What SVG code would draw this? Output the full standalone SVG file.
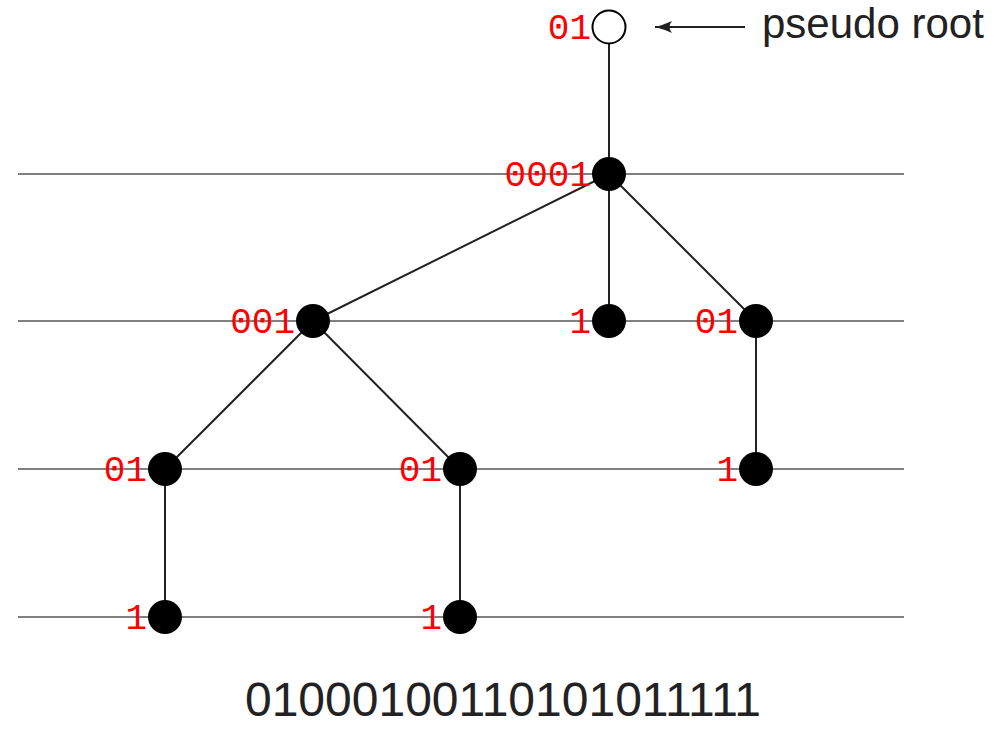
<svg xmlns="http://www.w3.org/2000/svg" width="1001" height="730" viewBox="0 0 1001 730">
<style>
.lvl{stroke:#808080;stroke-width:2;fill:none}
.edge{stroke:#222;stroke-width:2;fill:none}
.node{fill:#000}
.lbl{font-family:"Liberation Mono",monospace;font-size:36px;fill:#ff0000;text-anchor:end}
.txt{font-family:"Liberation Sans",Arial,sans-serif;fill:#222}
</style>
<defs>
<marker id="ah" markerWidth="18" markerHeight="14" refX="17" refY="7" orient="auto" markerUnits="userSpaceOnUse">
<path d="M0,1 Q9,5 17,7 Q9,9 0,13 Q5,7 0,1 Z" fill="#222"/>
</marker>
</defs>
<rect width="1001" height="730" fill="#fff"/>
<g id="levels">
<line class="lvl" x1="18" y1="174" x2="904" y2="174"/>
<line class="lvl" x1="18" y1="321" x2="904" y2="321"/>
<line class="lvl" x1="18" y1="469" x2="904" y2="469"/>
<line class="lvl" x1="18" y1="617" x2="904" y2="617"/>
</g>
<g id="connectors">
<line class="edge" x1="609" y1="44" x2="609" y2="174"/>
<line class="edge" x1="609" y1="174" x2="313" y2="321"/>
<line class="edge" x1="609" y1="174" x2="609" y2="321"/>
<line class="edge" x1="609" y1="174" x2="756" y2="321"/>
<line class="edge" x1="313" y1="321" x2="165" y2="469"/>
<line class="edge" x1="313" y1="321" x2="460" y2="469"/>
<line class="edge" x1="756" y1="321" x2="756" y2="469"/>
<line class="edge" x1="165" y1="469" x2="165" y2="617"/>
<line class="edge" x1="460" y1="469" x2="460" y2="617"/>
<line class="edge" x1="745" y1="27" x2="655" y2="27" marker-end="url(#ah)"/>
</g>
<g id="pseudo-root">
<circle cx="609" cy="27" r="16.5" fill="#fff" stroke="#000" stroke-width="2"/>
<text class="lbl" x="591" y="39">01</text>
</g>
<g id="pseudo-root-label"><text class="txt" x="762" y="38" font-size="42">pseudo root</text></g>
<g id="n0001"><circle class="node" cx="609" cy="174" r="17"/><text class="lbl" x="591" y="186">0001</text></g>
<g id="n001"><circle class="node" cx="313" cy="321" r="17"/><text class="lbl" x="295" y="333">001</text></g>
<g id="n1a"><circle class="node" cx="609" cy="321" r="17"/><text class="lbl" x="591" y="333">1</text></g>
<g id="n01a"><circle class="node" cx="756" cy="321" r="17"/><text class="lbl" x="738" y="333">01</text></g>
<g id="n01b"><circle class="node" cx="165" cy="469" r="17"/><text class="lbl" x="147" y="481">01</text></g>
<g id="n01c"><circle class="node" cx="460" cy="469" r="17"/><text class="lbl" x="442" y="481">01</text></g>
<g id="n1b"><circle class="node" cx="756" cy="469" r="17"/><text class="lbl" x="738" y="481">1</text></g>
<g id="n1c"><circle class="node" cx="165" cy="617" r="17"/><text class="lbl" x="147" y="629">1</text></g>
<g id="n1d"><circle class="node" cx="460" cy="617" r="17"/><text class="lbl" x="442" y="629">1</text></g>
<g id="bitstring"><text class="txt" x="503" y="716" font-size="48" text-anchor="middle">01000100110101011111</text></g>
</svg>
